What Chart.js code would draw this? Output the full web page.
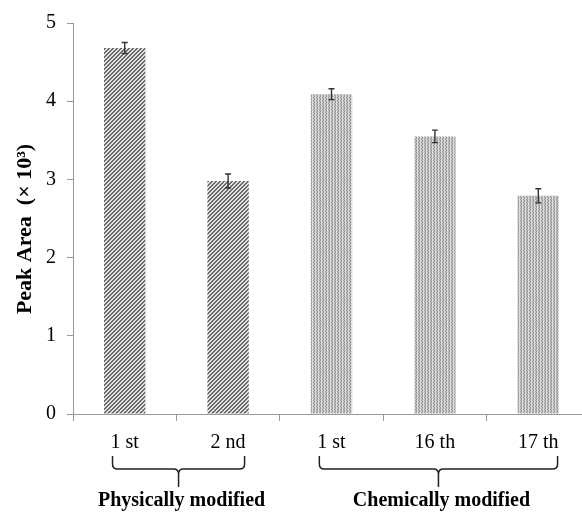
<!DOCTYPE html>
<html>
<head>
<meta charset="utf-8">
<script src="https://cdn.jsdelivr.net/npm/chart.js@4"></script>
<style>
  html, body { margin: 0; padding: 0; background: #fff; overflow: hidden; width: 582px; height: 512px; }
  canvas { display: block; }
</style>
</head>
<body>
<!-- the x axis runs slightly past the right edge of the figure, so the canvas is a bit wider and clipped -->
<canvas id="chart" width="592" height="512"></canvas>
<script>
// Data
const labels = ["1 st", "2 nd", "1 st", "16 th", "17 th"];
const peakArea = [4.68, 2.98, 4.09, 3.55, 2.79];
const peakErr = [0.07, 0.09, 0.07, 0.08, 0.09];
const groupNames = ["Physically modified", "Chemically modified"];
const groupStart = [0, 2];
const groupEnd = [1, 4];
const yTitle = "Peak Area  (× 10³)";

const SERIF = "'Liberation Serif', 'Times New Roman', serif";

// diagonal hatch for the physical group, fine dots for the chemical group
function makePattern(kind) {
  const c = document.createElement("canvas");
  const n = kind === "hatch" ? 4 : 3;
  c.width = n; c.height = n;
  const g = c.getContext("2d");
  const img = g.createImageData(n, n);
  for (let y = 0; y < n; y++) {
    for (let x = 0; x < n; x++) {
      let v;
      if (kind === "hatch") {
        v = ((x + y) % 4) < 2 ? 105 : 225;
      } else {
        v = (x === 0) ? 220 : ((x + y) % 2 === 0 ? 150 : 195);
      }
      const i = (y * n + x) * 4;
      img.data[i] = v; img.data[i + 1] = v; img.data[i + 2] = v; img.data[i + 3] = 255;
    }
  }
  g.putImageData(img, 0, 0);
  return document.getElementById("chart").getContext("2d").createPattern(c, "repeat");
}

const hatch = makePattern("hatch");
const dots = makePattern("dots");
const barFills = labels.map((_, i) => (i < groupStart[1] ? hatch : dots));

// error bars drawn from the y scale
const errorBars = {
  id: "errorBars",
  afterDatasetsDraw(chart) {
    const { ctx, scales: { y } } = chart;
    const meta = chart.getDatasetMeta(0);
    ctx.save();
    ctx.strokeStyle = "#333";
    ctx.lineWidth = 1.4;
    meta.data.forEach((bar, i) => {
      const top = y.getPixelForValue(peakArea[i] + peakErr[i]);
      const bot = y.getPixelForValue(peakArea[i] - peakErr[i]);
      ctx.beginPath();
      ctx.moveTo(bar.x, top); ctx.lineTo(bar.x, bot);
      ctx.moveTo(bar.x - 3, top); ctx.lineTo(bar.x + 3, top);
      ctx.moveTo(bar.x - 3, bot); ctx.lineTo(bar.x + 3, bot);
      ctx.stroke();
    });
    ctx.restore();
  }
};

// y axis title, braces under the tick labels and the group names
const annotations = {
  id: "annotations",
  afterDraw(chart) {
    const { ctx, scales: { x } } = chart;
    ctx.save();

    ctx.fillStyle = "#000";
    ctx.font = "bold 22px " + SERIF;
    ctx.textAlign = "center";
    ctx.textBaseline = "middle";
    ctx.translate(25, 229);
    ctx.rotate(-Math.PI / 2);
    ctx.fillText(yTitle, 0, 0);
    ctx.setTransform(1, 0, 0, 1, 0, 0);

    const top = 456, hy = 469, tip = 487, r = 5;
    groupNames.forEach((name, g) => {
      const a = groupStart[g], b = groupEnd[g];
      ctx.font = "20px " + SERIF;
      const left = x.getPixelForValue(a) - ctx.measureText(labels[a]).width / 2 + 2;
      const right = x.getPixelForValue(b) + ctx.measureText(labels[b]).width / 2 - 1;
      const cx = (left + right) / 2;
      ctx.strokeStyle = "#222";
      ctx.lineWidth = 1.5;
      ctx.beginPath();
      ctx.moveTo(left, top);
      ctx.lineTo(left, hy - r);
      ctx.quadraticCurveTo(left, hy, left + r, hy);
      ctx.lineTo(cx - r, hy);
      ctx.quadraticCurveTo(cx, hy, cx, hy + r);
      ctx.lineTo(cx, tip);
      ctx.moveTo(cx, hy + r);
      ctx.quadraticCurveTo(cx, hy, cx + r, hy);
      ctx.lineTo(right - r, hy);
      ctx.quadraticCurveTo(right, hy, right, hy - r);
      ctx.lineTo(right, top);
      ctx.stroke();

      ctx.fillStyle = "#000";
      ctx.font = "bold 20px " + SERIF;
      ctx.textAlign = "center";
      ctx.textBaseline = "alphabetic";
      ctx.fillText(name, cx + 3, 506);
    });
    ctx.restore();
  }
};

new Chart(document.getElementById("chart"), {
  type: "bar",
  data: {
    labels: labels,
    datasets: [{
      data: peakArea,
      backgroundColor: barFills,
      borderWidth: 0,
      barPercentage: 0.4,
      categoryPercentage: 1.0
    }]
  },
  options: {
    responsive: false,
    animation: false,
    layout: { padding: { top: 20, right: 2, left: 0, bottom: 0 } },
    plugins: {
      legend: { display: false },
      tooltip: { enabled: false }
    },
    scales: {
      x: {
        afterFit: (scale) => { scale.height = 98; },
        grid: {
          offset: true,
          drawOnChartArea: false,
          tickLength: 7,
          color: "#999",
          lineWidth: 1
        },
        border: { color: "#999", width: 1 },
        ticks: {
          color: "#000",
          padding: 10,
          maxRotation: 0,
          font: { family: SERIF, size: 20 }
        }
      },
      y: {
        min: 0,
        max: 5,
        afterFit: (scale) => { scale.width = 73; },
        grid: {
          drawOnChartArea: false,
          tickLength: 6,
          color: "#999",
          lineWidth: 1
        },
        border: { color: "#999", width: 1 },
        ticks: {
          stepSize: 1,
          color: "#000",
          padding: 11,
          font: { family: SERIF, size: 20 }
        }
      }
    }
  },
  plugins: [errorBars, annotations]
});
</script>
</body>
</html>
